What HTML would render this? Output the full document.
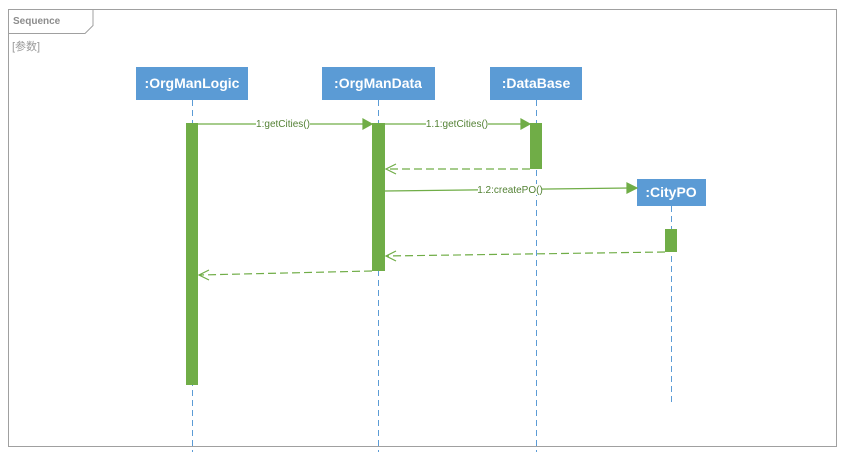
<!DOCTYPE html>
<html><head><meta charset="utf-8"><style>
body{margin:0;background:#fff;}
svg{display:block;font-family:"Liberation Sans","Noto Sans CJK SC",sans-serif;}
</style></head><body>
<svg width="849" height="458" viewBox="0 0 849 458">
<rect x="8.5" y="9.5" width="828" height="437" fill="#fff" stroke="#a0a0a0"/>
<path d="M8.5 33.5H85l8-8V9.5" fill="none" stroke="#a0a0a0"/>
<text x="13" y="24" font-size="10" font-weight="bold" fill="#8c8c8c">Sequence</text>
<text x="12" y="50" font-size="11" fill="#999">[参数]</text>
<g stroke="#5b9bd5" stroke-dasharray="6,4" stroke-width="1">
<line x1="192.5" y1="100" x2="192.5" y2="452"/>
<line x1="378.5" y1="100" x2="378.5" y2="452"/>
<line x1="536.5" y1="100" x2="536.5" y2="452"/>
<line x1="671.5" y1="206" x2="671.5" y2="405"/>
</g>
<g fill="#5b9bd5"><rect x="136" y="67" width="112" height="33"/><rect x="322" y="67" width="113" height="33"/><rect x="490" y="67" width="92" height="33"/><rect x="637" y="179" width="69" height="27"/></g>
<g fill="#fff" font-size="14" font-weight="bold" text-anchor="middle">
<text x="192" y="88">:OrgManLogic</text><text x="378" y="88">:OrgManData</text><text x="536" y="88">:DataBase</text><text x="671" y="197">:CityPO</text></g>
<g fill="#70ad47"><rect x="186" y="123" width="12" height="262"/><rect x="372" y="123" width="13" height="148"/><rect x="530" y="123" width="12" height="46"/><rect x="665" y="229" width="12" height="23"/></g>
<g stroke="#70ad47" fill="none" stroke-width="1.2">
<line x1="198" y1="124" x2="365" y2="124"/><path d="M363 119l9 5-9 5z" fill="#70ad47"/>
<line x1="385" y1="124" x2="523" y2="124"/><path d="M521 119l9 5-9 5z" fill="#70ad47"/>
<line x1="385" y1="191" x2="629" y2="188"/><path d="M627 183l10 5-10 5z" fill="#70ad47"/>
<g stroke-dasharray="8,4"><line x1="530" y1="169" x2="386" y2="169"/><line x1="665" y1="252" x2="386" y2="256"/><line x1="372" y1="271" x2="199" y2="275"/></g>
<path d="M396 164l-10 5 10 5M396 251l-10 5 10 5M209 270l-10 5 10 5"/>
</g>
<g font-size="10" fill="#548235" text-anchor="middle">
<rect x="256" y="118" width="54" height="11" fill="#fff"/><text x="283" y="127">1:getCities()</text>
<rect x="426" y="118" width="62" height="11" fill="#fff"/><text x="457" y="127">1.1:getCities()</text>
<rect x="478" y="184" width="64" height="11" fill="#fff"/><text x="510" y="193">1.2:createPO()</text>
</g>
</svg>
</body></html>
